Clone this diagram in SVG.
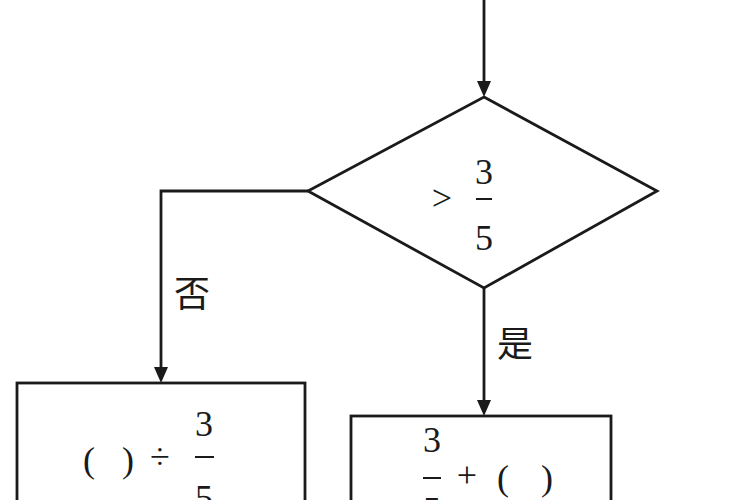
<svg xmlns="http://www.w3.org/2000/svg" width="750" height="500" viewBox="0 0 750 500">
<style>
.ln{fill:none;stroke:#1a1a1a;stroke-width:2.8}
.sh{fill:#fff;stroke:#1a1a1a;stroke-width:2.8}
.t{font-family:"Liberation Serif","Times New Roman",serif;font-size:36px;fill:#1a1a1a;text-anchor:middle}
.c{font-family:"Noto Sans CJK SC","Noto Sans",sans-serif;font-size:36px;fill:#1a1a1a;text-anchor:middle}
.bar{stroke:#1a1a1a;stroke-width:2}
.ah{fill:#1a1a1a}
</style>
<g id="connectors">
<path class="ln" d="M484,0 V84"/>
<path class="ah" d="M477,81 L491,81 L484,97 Z"/>
<path class="ln" d="M308,191 H161 V370"/>
<path class="ah" d="M154,367 L168,367 L161,383 Z"/>
<path class="ln" d="M484,288 V403"/>
<path class="ah" d="M477,400 L491,400 L484,416 Z"/>
<text class="c" x="192" y="307">否</text>
<text class="c" x="515" y="357">是</text>
</g>
<g id="decision">
<polygon class="sh" points="484,97 657,191 484,288 308,191"/>
<text class="t" x="442" y="210" font-size="30">&gt;</text>
<text class="t" x="484" y="184">3</text>
<line class="bar" x1="476" y1="199" x2="492" y2="199"/>
<text class="t" x="484" y="250">5</text>
</g>
<g id="box-no">
<rect class="sh" x="17" y="383" width="288" height="140"/>
<text class="t" x="89" y="472">(</text>
<text class="t" x="128" y="472">)</text>
<text class="t" x="160" y="469" font-size="30">÷</text>
<text class="t" x="204" y="436">3</text>
<line class="bar" x1="195" y1="457" x2="214" y2="457"/>
<text class="t" x="204" y="510">5</text>
</g>
<g id="box-yes">
<rect class="sh" x="351" y="416" width="260" height="110"/>
<text class="t" x="432" y="452">3</text>
<line class="bar" x1="423" y1="478" x2="441" y2="478"/>
<text class="t" x="432" y="522">5</text>
<text class="t" x="467" y="487" font-size="32">+</text>
<text class="t" x="503" y="490">(</text>
<text class="t" x="547" y="490">)</text>
</g>
</svg>
